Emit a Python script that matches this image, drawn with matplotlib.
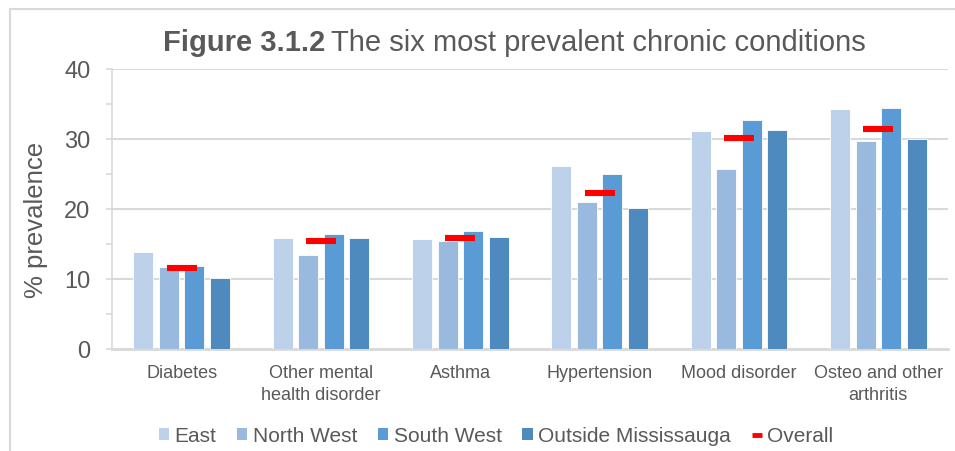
import matplotlib.pyplot as plt
import numpy as np
from matplotlib.lines import Line2D
from matplotlib.patches import Patch

plt.rcParams['font.family'] = ['Liberation Sans', 'DejaVu Sans']

# data
conditions = ['Diabetes', 'Other mental\nhealth disorder', 'Asthma',
              'Hypertension', 'Mood disorder', 'Osteo and other\narthritis']
east = [13.8, 15.9, 15.7, 26.1, 31.1, 34.3]
north_west = [11.7, 13.4, 15.5, 21.0, 25.7, 29.7]
south_west = [11.8, 16.4, 16.8, 25.0, 32.7, 34.4]
outside = [10.2, 15.8, 16.0, 20.2, 31.3, 30.0]
overall = [11.6, 15.4, 15.9, 22.3, 30.1, 31.4]

series_names = ['East', 'North West', 'South West', 'Outside Mississauga']
colors = ['#bdd1ea', '#99b9df', '#5b9bd5', '#4e8abe']
text_col = '#595959'
grid_col = '#d9d9d9'

W, H = 955, 452
fig = plt.figure(figsize=(W / 100, H / 100), dpi=100)
ax = fig.add_axes([112 / W, 1 - 350 / H, 836 / W, 280 / H])

x = np.arange(len(conditions))
pitch = 0.183
width = 0.1435
for k, (vals, name, c) in enumerate(zip([east, north_west, south_west, outside], series_names, colors)):
    ax.bar(x + (k - 1.5) * pitch, vals, width=width, color=c,
           edgecolor='white', linewidth=0.6, zorder=3, label=name)

# overall marks
ax.hlines(overall, x - 0.108, x + 0.108, colors='#ff0000', linewidth=4.4, zorder=4, capstyle='butt')

ax.set_xlim(-0.5, 5.5)
ax.set_ylim(0, 40)
ax.set_yticks([0, 10, 20, 30, 40])
ax.set_yticks([5, 15, 25, 35], minor=True)
ax.yaxis.grid(True, color=grid_col, linewidth=1.5, zorder=0)
ax.set_axisbelow(True)

for s in ['top', 'right']:
    ax.spines[s].set_visible(False)
ax.spines['left'].set_color(grid_col)
ax.spines['left'].set_linewidth(1.2)
ax.spines['bottom'].set_color(grid_col)
ax.spines['bottom'].set_linewidth(2)

ax.tick_params(axis='y', which='both', length=4.5, width=1.2, color=grid_col,
               labelsize=17, labelcolor=text_col, pad=11)
ax.tick_params(axis='x', length=0, labelsize=13, labelcolor=text_col, pad=11)
ax.set_xticks(x)
ax.set_xticklabels(conditions, linespacing=1.35)

ax.set_ylabel('% prevalence', fontsize=18.5, color=text_col, va='center')
ax.yaxis.set_label_coords((36 - 112) / 836, (350 - 220) / 280)

# title with bold figure number, regular part placed right after it
t1 = fig.text(163 / W, 1 - 43 / H, 'Figure 3.1.2', fontsize=21, fontweight='bold',
              color=text_col, ha='left', va='center')
fig.canvas.draw()
bb = t1.get_window_extent()
fig.text((bb.x1 + 6) / W, 1 - 43 / H, 'The six most prevalent chronic conditions', fontsize=21,
         color=text_col, ha='left', va='center')

# legend
handles = [Patch(facecolor=c, edgecolor='none') for c in colors]
handles.append(Line2D([0], [0], color='#ff0000', linewidth=3.5, solid_capstyle='butt'))
labels = series_names + ['Overall']
fig.legend(handles, labels, loc='center', bbox_to_anchor=(496 / W, 1 - 437 / H),
           ncol=5, frameon=False, fontsize=15, labelcolor=text_col,
           handlelength=0.5, handleheight=0.5, handletextpad=0.25, columnspacing=1.0)

# chart area border (left and top edges visible)
fig.add_artist(Line2D([10 / W, 10 / W], [0, 1 - 10 / H], color=grid_col, linewidth=1.5))
fig.add_artist(Line2D([10 / W, 1], [1 - 10 / H, 1 - 10 / H], color=grid_col, linewidth=1.5))

fig.savefig('out.png', dpi=100)
